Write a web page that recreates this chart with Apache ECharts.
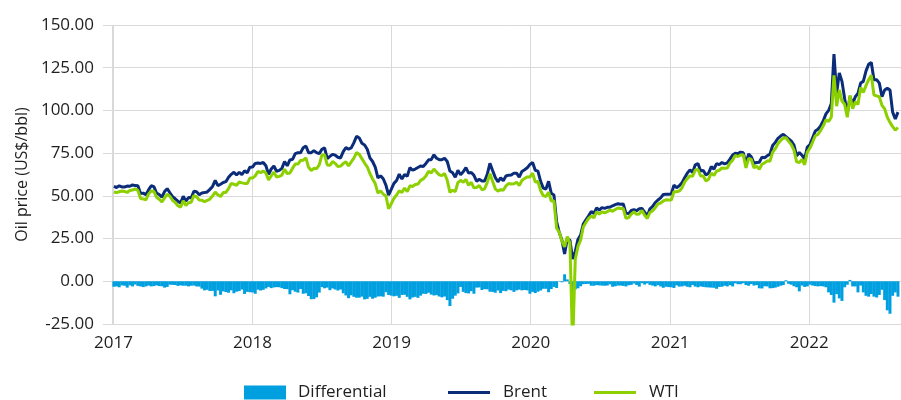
<!DOCTYPE html>
<html>
<head>
<meta charset="utf-8">
<script src="https://cdn.jsdelivr.net/npm/echarts@6/dist/echarts.min.js"></script>
<style>
  html, body { margin: 0; padding: 0; background: #fff; }
  #chart { width: 901px; height: 400px; }
</style>
</head>
<body>
<div id="chart"></div>
<script>
// weekly values (Mondays), one array per year
var brent2017 = [55.5,54.9,55.9,55.2,55.2, 55.7,55.6,56.4,56.0, 55.9,51.4,51.6,50.7, 53.5,55.9,55.4,51.6,
    50.8,49.3,52.5,54.2,51.8, 49.5,48.3,46.9,45.8, 49.7,47.0,49.0,48.9,52.7, 52.4,50.7,51.7,51.9,
    52.3,53.8,55.5,59.0, 56.0,56.8,57.8,58.3,60.9, 62.6,63.8,62.2,63.8, 62.4,64.7,63.4,66.8];
var wti2017 = [52.3,51.9,52.4,52.8,52.6, 52.0,53.2,53.4,54.1, 53.2,48.4,48.2,47.7, 51.0,52.9,52.6,49.2,
    48.0,46.4,48.8,50.9,49.8, 47.4,46.1,44.2,43.4, 47.1,44.4,46.0,46.3,50.2, 49.4,47.6,47.4,46.6,
    47.3,48.1,49.9,52.2, 50.6,49.6,51.9,52.0,54.2, 57.3,56.8,56.1,58.1, 57.6,57.3,57.2,60.4];
var diff2017 = [-3.2,-3.0,-3.5,-2.4,-2.6, -3.7,-2.4,-3.0,-1.9, -2.7,-3.0,-3.4,-3.0, -2.5,-3.0,-2.8,-2.4,
    -2.8,-2.9,-3.7,-3.3,-2.0, -2.1,-2.2,-2.7,-2.4, -2.6,-2.6,-3.0,-2.6,-2.5, -3.0,-3.1,-4.3,-5.3,
    -5.0,-5.7,-5.6,-8.8, -5.4,-7.9,-5.9,-6.3,-6.7, -5.3,-7.0,-6.1,-5.7, -4.8,-7.4,-6.2,-6.4];

var brent2018 = [66.9,69.0,69.2,69.0,69.5, 67.6,62.6,65.7,67.5, 64.4,64.9,66.1,70.1, 67.6,71.0,71.4,74.7,75.2,
    75.2,78.2,79.2,75.3, 75.3,76.5,75.3,74.7, 77.3,78.1,71.8,73.1,74.3, 73.8,72.6,72.2,75.9,
    78.2,77.4,78.1,81.2, 84.9,83.9,80.8,79.8,77.3, 72.2,70.1,66.8,60.5, 61.7,60.0,56.3,50.5,53.8];
var wti2018 = [60.4,61.7,64.3,63.6,64.5, 63.4,59.3,61.7,63.9, 61.0,61.4,62.1,65.6, 63.0,63.4,66.2,68.6,68.6,
    70.7,70.9,72.2,66.7, 64.8,66.1,65.9,68.1, 73.9,74.0,68.1,67.9,70.1, 69.0,67.2,67.4,68.9,
    69.9,67.5,69.9,72.1, 75.3,74.3,71.8,69.2,67.0, 63.1,59.9,57.2,51.6, 52.9,51.0,49.9,42.5,45.4];
var diff2018 = [-6.5,-7.3,-4.9,-5.4,-5.0, -4.2,-3.3,-4.0,-3.6, -3.4,-3.5,-4.0,-4.5, -4.6,-7.6,-5.2,-6.1,-6.6,
    -4.5,-7.3,-7.0,-8.6, -10.5,-10.4,-9.4,-6.6, -3.4,-4.1,-3.7,-5.2,-4.2, -4.8,-5.4,-4.8,-7.0,
    -8.3,-9.9,-8.2,-9.1, -9.6,-9.6,-9.0,-10.6,-10.3, -9.1,-10.2,-9.6,-8.9, -8.8,-9.0,-6.4,-8.0,-8.4];

var brent2019 = [57.3,59.0,62.7,59.9, 62.5,61.5,66.5,65.0, 65.7,66.6,67.5,67.2, 69.0,71.1,71.2,74.0,72.0,
    71.2,71.2,72.0,70.1, 64.5,63.5,60.9,64.9, 62.4,64.1,66.5,63.3,63.7, 62.0,58.6,59.7,58.7,
    58.7,62.6,69.0,64.8,60.8, 58.2,60.5,58.9,61.6, 62.1,62.2,63.3,63.3, 60.9,64.3,65.3,66.4,68.4];
var wti2019 = [48.5,50.5,53.0,51.9, 54.6,52.4,55.9,55.5, 56.6,56.9,59.1,59.9, 61.6,64.4,63.4,65.7,63.9,
    62.3,61.8,63.1,59.1, 52.0,53.3,52.5,57.8, 59.1,57.9,59.6,56.2,57.9, 54.7,54.9,56.1,53.6,
    54.1,57.9,62.9,58.6,54.1, 52.8,53.6,53.3,55.8, 57.2,56.9,57.1,58.0, 56.0,59.0,60.2,61.1,61.1];
var diff2019 = [-8.8,-8.5,-9.7,-8.0, -7.9,-9.1,-10.6,-9.5, -9.1,-9.7,-8.4,-7.3, -7.4,-6.7,-7.8,-8.3,-8.1,
    -8.9,-9.4,-8.9,-11.0, -14.5,-10.2,-8.4,-7.1, -3.3,-6.2,-6.9,-7.1,-5.8, -7.3,-3.7,-3.6,-5.1,
    -4.6,-4.7,-6.1,-6.2,-6.7, -5.4,-6.9,-5.6,-5.8, -4.9,-5.3,-6.2,-5.3, -4.9,-5.3,-5.1,-5.3,-7.3];

var brent2020 = [69.5,65.0,64.5,58.5, 54.5,54.0,58.5,51.5, 50.5,35.0,28.5,24.0,16.0, 25.0,24.0,13.0,17.5,
    24.5,27.0,33.5,36.0, 38.3,40.8,39.7,42.9,41.7, 43.1,42.7,43.3,43.4, 44.2,44.9,45.4,45.1,45.3,
    39.8,39.6,41.4,41.9, 41.3,42.5,42.6,40.5, 38.0,42.4,43.8,46.1,47.6, 48.8,50.8,50.9,51.0];
var wti2020 = [63.3,58.1,58.4,53.1, 50.1,49.6,52.1,47.0, 47.2,31.1,28.7,23.4,20.1, 26.1,22.4,-37.6,12.8,
    20.4,24.1,31.8,34.4, 36.8,38.2,37.1,40.7,39.3, 40.6,40.1,40.8,41.6, 41.0,42.0,42.9,42.6,42.6,
    36.8,37.3,39.3,40.6, 39.2,39.4,41.5,38.6, 36.8,40.3,41.3,43.1,45.3, 45.8,47.0,47.7,47.6];
var diff2020 = [-6.2,-6.9,-6.1,-5.4, -4.4,-4.4,-6.4,-4.5, -3.3,-3.9,0.2,-0.6,4.1, 1.1,-1.6,-50.6,-4.7,
    -4.1,-2.9,-1.7,-1.6, -1.5,-2.6,-2.6,-2.2,-2.4, -2.5,-2.6,-2.5,-1.8, -3.2,-2.9,-2.5,-2.5,-2.7,
    -3.0,-2.3,-2.1,-1.3, -2.1,-3.1,-1.1,-1.9, -1.2,-2.1,-2.5,-3.0,-2.3, -3.0,-3.8,-3.2,-3.4];

var brent2021 = [51.1,56.3,54.8,55.9, 57.6,60.6,63.3,65.2, 63.7,68.2,68.9,64.6,64.9, 62.2,63.3,67.1,65.7,
    68.9,68.3,69.5,68.7,69.3, 71.5,73.9,74.9,74.7, 75.6,75.2,68.6,74.5, 72.9,69.0,69.5,69.7,72.7,
    72.2,73.5,74.4,79.5, 81.3,83.7,85.0,86.0, 84.7,83.4,82.0,79.7,73.4, 75.4,73.8,71.5,78.6];
var wti2021 = [47.6,52.4,52.4,52.8, 54.6,58.0,60.1,61.7, 61.5,65.1,65.4,61.6,61.6, 58.7,59.7,63.4,61.9,
    64.5,65.0,66.3,66.1,66.3, 69.2,70.9,73.7,73.0, 73.9,74.1,66.4,71.9, 71.3,66.5,67.3,65.6,68.5,
    69.3,70.5,70.3,75.5, 77.6,80.5,82.4,83.8, 84.0,81.9,80.0,76.8,69.9, 69.5,71.3,68.2,75.6];
var diff2021 = [-3.5,-3.9,-2.4,-3.1, -3.0,-2.6,-3.2,-3.5, -2.2,-3.1,-3.5,-3.0,-3.3, -3.5,-3.6,-3.7,-3.8,
    -4.4,-3.3,-3.2,-2.6,-3.0, -2.3,-3.0,-1.2,-1.7, -1.7,-1.1,-2.2,-2.6, -1.6,-2.5,-2.2,-4.1,-4.2,
    -2.9,-3.0,-4.1,-4.0, -3.7,-3.2,-2.6,-2.2, 0.6,-1.5,-2.0,-2.9,-3.5, -5.9,-2.5,-3.3,-3.0];

var brent2022 = [80.0,84.0,88.0,89.0,91.0, 94.0,98.0,100.0,104.0, 133.0,110.0,122.0,117.0, 107.0,98.0,108.0,104.0,
    108.0,110.0,116.0,117.0,123.0, 127.0,128.0,118.0,118.0, 116.0,108.0,112.0,113.0, 112.0,99.0,95.0,99.0];
var wti2022 = [78.0,81.5,85.2,86.0,88.2, 91.0,94.5,93.5,96.0, 120.5,102.5,112.0,105.5, 103.5,96.0,108.8,101.0,
    105.0,103.5,113.5,110.5,114.5, 118.0,120.5,109.0,108.5, 108.0,103.0,101.0,96.0, 93.0,90.5,88.5,90.0];
var diff2022 = [-2.0,-2.5,-2.8,-3.0,-2.8, -3.0,-3.5,-6.5,-8.0, -12.5,-7.5,-10.0,-11.5, -3.5,-2.0,0.8,-3.0,
    -3.0,-6.5,-2.5,-6.5,-8.5, -9.0,-7.5,-9.0,-9.5, -8.0,-5.0,-11.0,-17.0, -19.0,-8.5,-6.5,-9.0];

var brent = [].concat(brent2017, brent2018, brent2019, brent2020, brent2021, brent2022);
var wti = [].concat(wti2017, wti2018, wti2019, wti2020, wti2021, wti2022);
var diff = [].concat(diff2017, diff2018, diff2019, diff2020, diff2021, diff2022);

// week i -> Monday 2017-01-02 + 7*i days
function weekDate(i) { return new Date(2017, 0, 2 + 7 * i).getTime(); }
function pairs(arr) { return arr.map(function (v, i) { return [weekDate(i), v]; }); }

var font = "'Open Sans', 'Noto Sans', sans-serif";
var txt = '#1f1f1f';
var gridCol = '#d9d9d9';
var YEAR = 365 * 24 * 3600 * 1000;

var myChart = echarts.init(document.getElementById('chart'));

var option = {
    animation: false,
    textStyle: { fontFamily: font },
    grid: { left: 112, right: 0, top: 25, bottom: 76 },
    legend: [
        { data: ['Differential'], left: 244, top: 384, padding: 0, icon: 'rect',
          itemWidth: 42, itemHeight: 14,
          textStyle: { fontSize: 17, color: txt, fontFamily: font, padding: [0, 0, 0, 7] } },
        { data: ['Brent'], left: 448, top: 384, padding: 0, icon: 'rect',
          itemWidth: 42, itemHeight: 3,
          textStyle: { fontSize: 17, color: txt, fontFamily: font, padding: [0, 0, 0, 8] } },
        { data: ['WTI'], left: 594, top: 384, padding: 0, icon: 'rect',
          itemWidth: 42, itemHeight: 3,
          textStyle: { fontSize: 17, color: txt, fontFamily: font, padding: [0, 0, 0, 8] } }
    ],
    xAxis: {
        type: 'time',
        min: new Date(2017, 0, 1).getTime(),
        max: new Date(2022, 7, 26).getTime(),
        minInterval: YEAR,
        maxInterval: YEAR + 24 * 3600 * 1000,
        axisLine: { show: false },
        axisTick: { show: false },
        splitLine: { show: true, lineStyle: { color: gridCol, width: 1 } },
        axisLabel: {
            fontSize: 17, color: txt, fontFamily: font, margin: 11,
            formatter: function (v) { return String(new Date(v).getFullYear()); }
        }
    },
    yAxis: {
        type: 'value',
        min: -25,
        max: 150,
        interval: 25,
        name: 'Oil price (US$/bbl)',
        nameLocation: 'middle',
        nameGap: 80,
        nameTextStyle: { fontSize: 16, color: txt, fontFamily: font },
        axisLine: { show: false },
        axisTick: { show: true, length: 9, lineStyle: { color: gridCol } },
        splitLine: { lineStyle: { color: gridCol, width: 1 } },
        axisLabel: {
            fontSize: 17, color: txt, fontFamily: font, margin: 18,
            formatter: function (v) { return v.toFixed(2); }
        }
    },
    series: [
        {
            name: 'Differential',
            type: 'bar',
            barWidth: 3,
            itemStyle: { color: '#00a0e0' },
            data: pairs(diff)
        },
        {
            name: 'Brent',
            type: 'line',
            showSymbol: false,
            lineStyle: { width: 3, color: '#0b2c78' },
            itemStyle: { color: '#0b2c78' },
            data: pairs(brent)
        },
        {
            name: 'WTI',
            type: 'line',
            showSymbol: false,
            lineStyle: { width: 3, color: '#8cd000' },
            itemStyle: { color: '#8cd000' },
            data: pairs(wti)
        }
    ]
};

myChart.setOption(option);
</script>
</body>
</html>
